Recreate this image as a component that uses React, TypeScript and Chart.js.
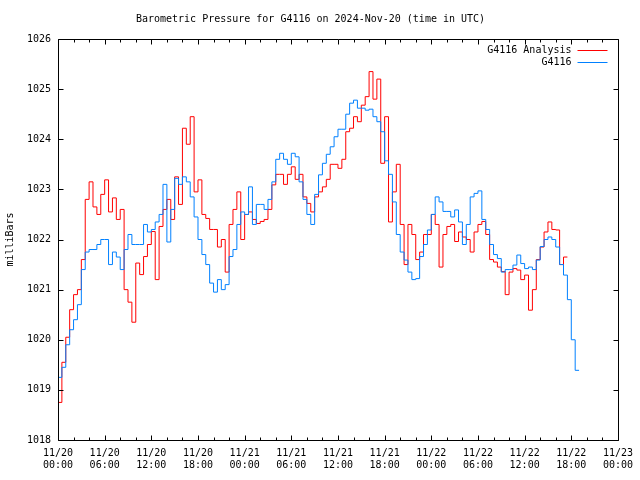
import React, { useEffect, useRef } from "react";
import { Chart, registerables } from "chart.js";

Chart.register(...registerables);

const TITLE = "Barometric Pressure for G4116 on 2024-Nov-20 (time in UTC)";
const Y_TITLE = "milliBars";
const SERIES_NAMES = ["G4116 Analysis", "G4116"];
const SERIES_COLORS = ["#ff0000", "#0080ff"];

// sample spacing (hours since 2024-11-20 00:00 UTC)
const STEP_HOURS = 0.5;

// G4116 Analysis (red), every 30 min from 11/20 00:00
const ANALYSIS = [
  1018.3, 1018.75, 1019.55, 1020.05, 1020.6, 1020.9, 1021.0, 1021.6, 1022.8, 1023.15, 1022.65, 1022.5,
  1022.9, 1023.19, 1022.55, 1022.83, 1022.4, 1022.6, 1021.0, 1020.75, 1020.35, 1021.53, 1021.3, 1021.66,
  1021.9, 1022.16, 1021.2, 1022.26, 1022.6, 1022.8, 1022.4, 1023.25, 1022.7, 1024.22, 1023.9, 1024.45,
  1022.95, 1023.19, 1022.5, 1022.42, 1022.2, 1022.2, 1021.85, 1022.0, 1021.35, 1022.3, 1022.6, 1022.95,
  1022.0, 1022.5, 1022.55, 1022.4, 1022.32, 1022.36, 1022.4, 1022.6, 1023.09, 1023.3, 1023.3, 1023.1,
  1023.3, 1023.45, 1023.2, 1023.3, 1022.85, 1022.72, 1022.55, 1022.85, 1022.95, 1023.05, 1023.2, 1023.5,
  1023.5, 1023.42, 1023.6, 1024.15, 1024.22, 1024.45, 1024.35, 1024.68, 1024.85, 1025.35, 1024.8, 1025.2,
  1023.52, 1024.45, 1022.35, 1022.95, 1023.5, 1022.3, 1021.5, 1022.3, 1022.1, 1021.6, 1021.75, 1022.1,
  1022.1, 1022.5, 1022.3, 1021.45, 1022.1, 1022.26, 1022.3, 1021.96, 1022.15, 1022.05, 1022.0, 1021.75,
  1022.15, 1022.3, 1022.36, 1022.1, 1021.6, 1021.55, 1021.45, 1021.36, 1020.9, 1021.35, 1021.42, 1021.39,
  1021.2, 1021.29, 1020.59, 1021.0, 1021.6, 1021.85, 1022.15, 1022.35, 1022.2, 1022.19, 1021.5, 1021.65,
];

// G4116 observed (blue), every 30 min from 11/20 00:00
const OBSERVED = [
  1018.75, 1019.25, 1019.45, 1019.9, 1020.2, 1020.4, 1020.7, 1021.4, 1021.75, 1021.8, 1021.8, 1021.9,
  1022.0, 1022.0, 1021.5, 1021.75, 1021.65, 1021.4, 1021.8, 1022.1, 1021.9, 1021.9, 1021.9, 1022.3,
  1022.15, 1022.2, 1022.35, 1022.5, 1023.1, 1021.95, 1022.6, 1023.22, 1023.1, 1023.25, 1023.15, 1022.85,
  1022.45, 1022.0, 1021.7, 1021.5, 1021.13, 1020.95, 1021.2, 1021.0, 1021.1, 1021.66, 1021.8, 1022.3,
  1022.55, 1022.5, 1023.05, 1022.3, 1022.7, 1022.7, 1022.6, 1022.8, 1023.15, 1023.6, 1023.72, 1023.6,
  1023.5, 1023.72, 1023.65, 1023.15, 1022.8, 1022.5, 1022.3, 1022.9, 1023.29, 1023.52, 1023.7, 1023.85,
  1024.05, 1024.2, 1024.2, 1024.5, 1024.72, 1024.78, 1024.62, 1024.62, 1024.58, 1024.6, 1024.45, 1024.35,
  1024.15, 1023.57, 1023.3, 1022.75, 1022.1, 1021.75, 1021.59, 1021.35, 1021.2, 1021.22, 1021.66, 1021.9,
  1022.19, 1022.5, 1022.85, 1022.75, 1022.56, 1022.56, 1022.45, 1022.59, 1022.35, 1021.9, 1022.3, 1022.85,
  1022.92, 1022.97, 1022.4, 1022.2, 1021.9, 1021.7, 1021.62, 1021.35, 1021.4, 1021.4, 1021.49, 1021.69,
  1021.52, 1021.42, 1021.45, 1021.4, 1021.59, 1021.86, 1022.0, 1022.05, 1022.0, 1021.85, 1021.5, 1021.29,
  1020.8, 1020.0, 1019.39,
];

// x axis: major ticks every 6 h, minor every 2 h
const X_MIN = 0;
const X_MAX = 72;
const X_MAJOR = 6;
const X_MINOR = 2;
const TICK_DATES = ["11/20", "11/20", "11/20", "11/20", "11/21", "11/21", "11/21", "11/21", "11/22", "11/22", "11/22", "11/22", "11/23"];
const TICK_TIMES = ["00:00", "06:00", "12:00", "18:00", "00:00", "06:00", "12:00", "18:00", "00:00", "06:00", "12:00", "18:00", "00:00"];

const Y_MIN = 1018;
const Y_MAX = 1026;
const Y_STEP = 1;

const FONT = "'DejaVu Sans Mono', 'Liberation Mono', monospace";

const toPoints = (vals: number[]) => vals.map((v, i) => ({ x: i * STEP_HOURS, y: v }));

const gnuFrame = {
  id: "gnuFrame",
  afterDatasetsDraw(chart: any) {
    const { ctx, chartArea: a, scales } = chart;
    const L = Math.round(a.left) + 0.5;
    const R = Math.round(a.right) + 0.5;
    const T = Math.round(a.top) + 0.5;
    const B = Math.round(a.bottom) + 0.5;
    ctx.save();
    ctx.strokeStyle = "#000";
    ctx.lineWidth = 1;
    ctx.beginPath();
    ctx.moveTo(L, T);
    ctx.lineTo(R, T);
    ctx.lineTo(R, B);
    ctx.lineTo(L, B);
    ctx.closePath();
    for (let h = X_MIN; h <= X_MAX; h += X_MINOR) {
      const px = Math.round(scales.x.getPixelForValue(h)) + 0.5;
      const len = h % X_MAJOR === 0 ? 5 : 3;
      ctx.moveTo(px, B);
      ctx.lineTo(px, B - len);
      ctx.moveTo(px, T);
      ctx.lineTo(px, T + len);
    }
    for (let v = Y_MIN; v <= Y_MAX; v += Y_STEP) {
      const py = Math.round(scales.y.getPixelForValue(v)) + 0.5;
      ctx.moveTo(L, py);
      ctx.lineTo(L + 5, py);
      ctx.moveTo(R, py);
      ctx.lineTo(R - 5, py);
    }
    ctx.stroke();

    // legend inside top-right
    ctx.font = `10px ${FONT}`;
    ctx.textAlign = "right";
    ctx.textBaseline = "middle";
    chart.data.datasets.forEach((ds: any, i: number) => {
      const y = Math.round(a.top + 10.5 + i * 12.8) + 0.5;
      ctx.fillStyle = "#000";
      ctx.fillText(ds.label, R - 47, y);
      ctx.strokeStyle = ds.borderColor;
      ctx.beginPath();
      ctx.moveTo(R - 41, y);
      ctx.lineTo(R - 11, y);
      ctx.stroke();
    });
    ctx.restore();
  },
};

export default function App() {
  const ref = useRef<HTMLCanvasElement | null>(null);

  useEffect(() => {
    document.body.style.margin = "0";
    const canvas = ref.current;
    if (!canvas) return;
    const chart = new Chart(canvas, {
      type: "line",
      data: {
        datasets: [
          {
            label: SERIES_NAMES[0],
            data: toPoints(ANALYSIS),
            borderColor: SERIES_COLORS[0],
            backgroundColor: SERIES_COLORS[0],
            borderWidth: 1,
            pointRadius: 0,
            stepped: "after",
            order: 1,
          },
          {
            label: SERIES_NAMES[1],
            data: toPoints(OBSERVED),
            borderColor: SERIES_COLORS[1],
            backgroundColor: SERIES_COLORS[1],
            borderWidth: 1,
            pointRadius: 0,
            stepped: "after",
            order: 0,
          },
        ],
      },
      options: {
        animation: false,
        responsive: false,
        maintainAspectRatio: false,
        layout: { padding: { left: 0, right: 19, top: 0, bottom: 0 } },
        font: { family: FONT, size: 10 },
        plugins: {
          legend: { display: false },
          tooltip: { enabled: false },
          title: {
            display: true,
            text: TITLE,
            color: "#000",
            font: { family: FONT, size: 10, weight: "normal", lineHeight: 1.2 },
            padding: { top: 13, bottom: 14 },
          },
        },
        scales: {
          x: {
            type: "linear",
            min: X_MIN,
            max: X_MAX,
            grid: { display: false, drawTicks: false },
            border: { display: false },
            afterFit: (s: any) => {
              s.height = 40;
            },
            afterBuildTicks: (s: any) => {
              s.ticks = TICK_DATES.map((_, i) => ({ value: X_MIN + i * X_MAJOR }));
            },
            ticks: {
              color: "#000",
              padding: 7,
              maxRotation: 0,
              autoSkip: false,
              font: { family: FONT, size: 10, lineHeight: 1.2 },
              callback: (_v: any, i: number) => [TICK_DATES[i], TICK_TIMES[i]],
            },
          },
          y: {
            min: Y_MIN,
            max: Y_MAX,
            grid: { display: false, drawTicks: false },
            border: { display: false },
            afterFit: (s: any) => {
              s.width = 58;
            },
            ticks: {
              stepSize: Y_STEP,
              color: "#000",
              padding: 7,
              font: { family: FONT, size: 10 },
              callback: (v: any) => String(v),
            },
            title: {
              display: true,
              text: Y_TITLE,
              color: "#000",
              font: { family: FONT, size: 10 },
            },
          },
        },
      },
      plugins: [gnuFrame],
    } as any);
    return () => chart.destroy();
  }, []);

  return (
    <div style={{ position: "absolute", left: 0, top: 0, width: 640, height: 480, background: "#fff" }}>
      <canvas ref={ref} width={640} height={480} />
    </div>
  );
}
